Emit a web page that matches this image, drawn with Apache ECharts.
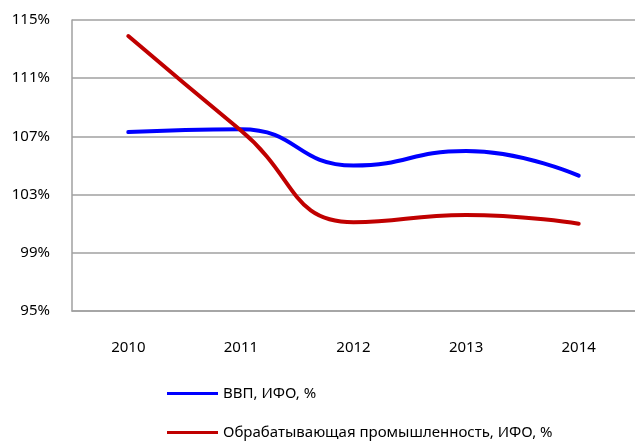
<!DOCTYPE html>
<html>
<head>
<meta charset="utf-8">
<script src="https://cdn.jsdelivr.net/npm/echarts@6/dist/echarts.min.js"></script>
<style>
  html, body { margin: 0; padding: 0; background: #fff; }
  #chart { width: 635px; height: 442px; }
</style>
</head>
<body>
<div id="chart"></div>
<script>
var years = ["2010", "2011", "2012", "2013", "2014"];
var gdp = [107.3, 107.5, 105.0, 106.0, 104.3];
var manuf = [113.9, 107.4, 101.1, 101.6, 101.0];
var seriesNames = ["ВВП, ИФО, %", "Обрабатывающая промышленность, ИФО, %"];

var font = "'Noto Sans', sans-serif";
var chart = echarts.init(document.getElementById("chart"));
var option = {
  animation: false,
  textStyle: { fontFamily: font },
  grid: { left: 72, right: 0, top: 20, bottom: 131 },
  legend: {
    orient: "vertical",
    left: 167,
    top: 386,
    padding: 0,
    itemWidth: 51,
    itemHeight: 3,
    itemGap: 24,
    icon: "rect",
    textStyle: { fontSize: 15, color: "#000", fontFamily: font },
    data: seriesNames
  },
  xAxis: {
    type: "category",
    data: years,
    axisLine: { lineStyle: { color: "#a0a0a0", width: 1.5 } },
    axisTick: { show: false },
    axisLabel: { fontSize: 15, color: "#000", margin: 29 }
  },
  yAxis: {
    type: "value",
    min: 95,
    max: 115,
    interval: 4,
    axisLine: { show: true, lineStyle: { color: "#a0a0a0", width: 1.5 } },
    axisTick: { show: false },
    splitLine: { lineStyle: { color: "#a0a0a0", width: 1.5 } },
    axisLabel: { fontSize: 15, color: "#000", margin: 22, formatter: "{value}%" }
  },
  series: [
    {
      name: seriesNames[0],
      type: "line",
      data: gdp,
      smooth: 0.5,
      symbol: "none",
      color: "#0000ff",
      lineStyle: { width: 4, color: "#0000ff", cap: "round" }
    },
    {
      name: seriesNames[1],
      type: "line",
      data: manuf,
      smooth: 0.5,
      symbol: "none",
      color: "#c00000",
      lineStyle: { width: 4, color: "#c00000", cap: "round" }
    }
  ]
};
chart.setOption(option);
</script>
</body>
</html>
